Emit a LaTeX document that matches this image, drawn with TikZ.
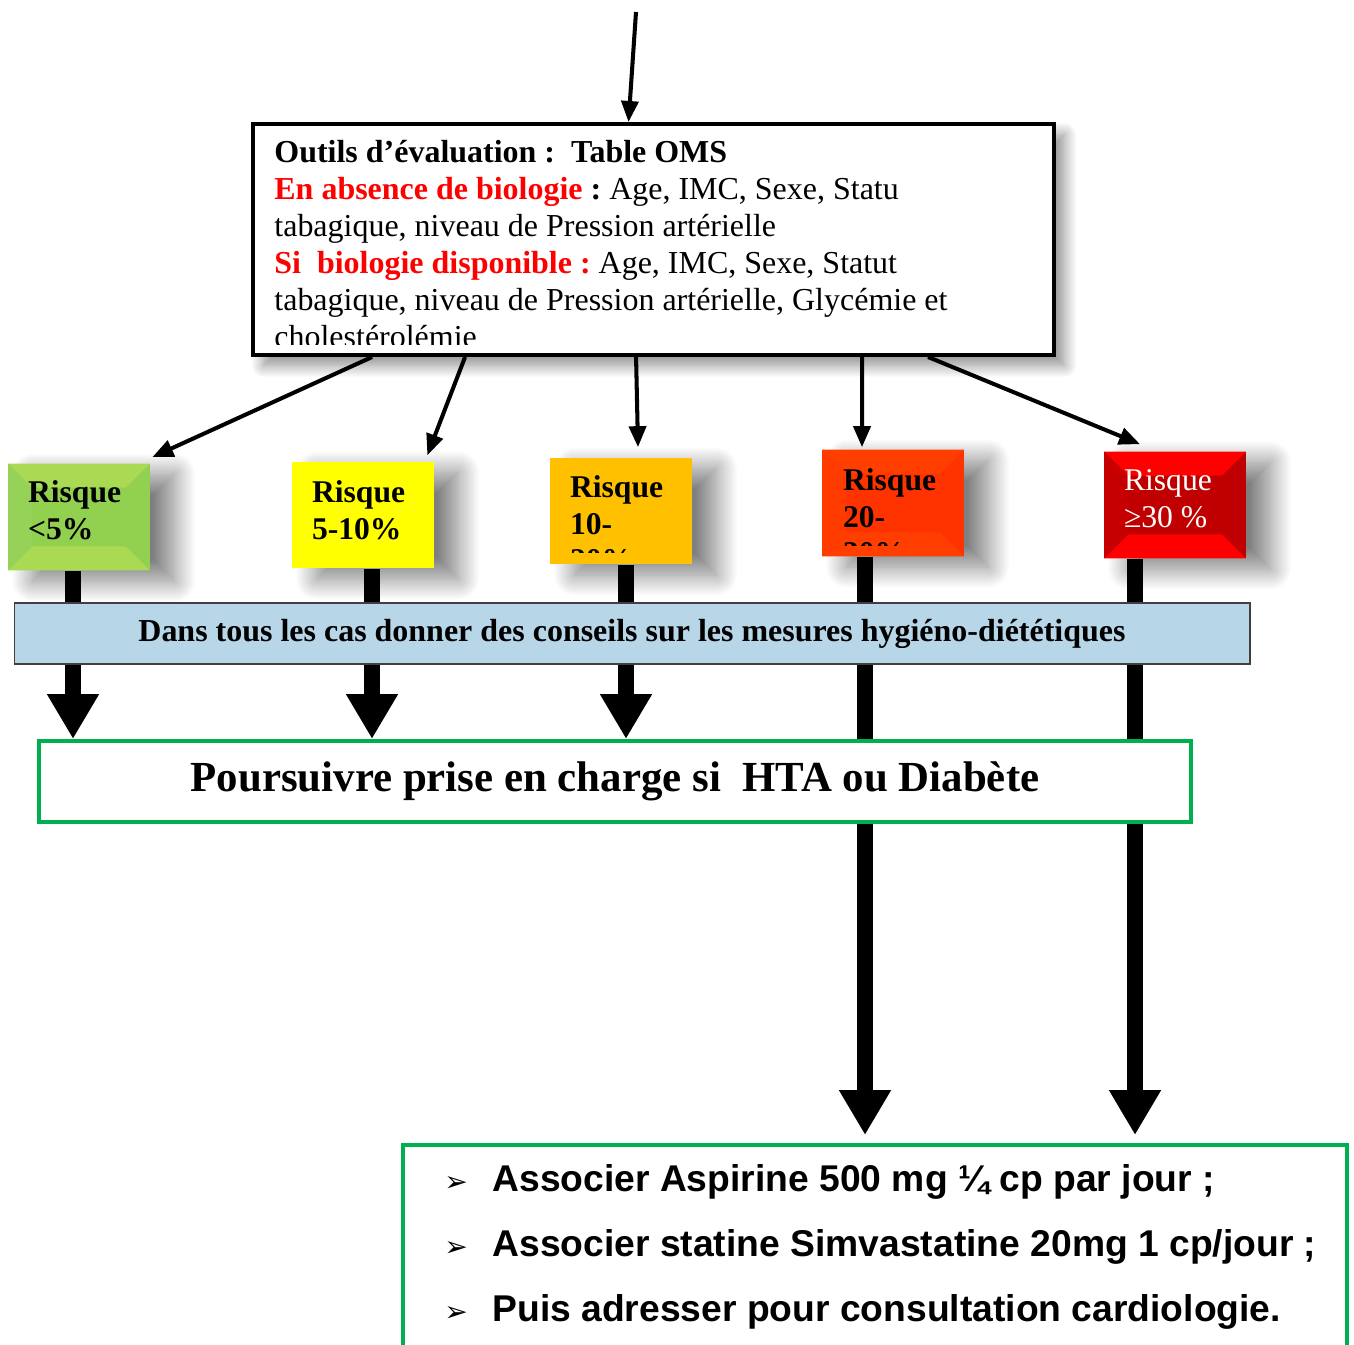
\documentclass[tikz,border=0pt]{standalone}
\usepackage{fontspec}
\setmainfont{Liberation Serif}
\setsansfont{Liberation Sans}
\newfontfamily\bulletfont{DejaVu Sans}
\usetikzlibrary{arrows.meta, positioning, shadows.blur, backgrounds, calc}
\frenchspacing

\definecolor{riskgreen}{HTML}{92D050}
\definecolor{riskyellow}{HTML}{FFFF00}
\definecolor{riskamber}{HTML}{FFC000}
\definecolor{riskorange}{HTML}{FF3300}
\definecolor{riskred}{HTML}{C00000}
\definecolor{bannerblue}{HTML}{B7D6E8}
\definecolor{framegreen}{HTML}{00B050}

\tikzset{
  evalbox/.style={
    rectangle, draw=black, line width=2.3pt, fill=white,
    minimum width=16.02cm, minimum height=4.62cm,
    blur shadow={shadow xshift=6pt, shadow yshift=-6pt,
                 shadow blur radius=7pt, shadow blur steps=20, shadow opacity=45}
  },
  evaltext/.style={
    anchor=base west, inner sep=0pt, text width=15.8cm, align=left,
    font=\fontsize{18.2}{21}\selectfont
  },
  riskbox/.style={
    rectangle, inner sep=0pt, draw=none, fill=#1,
    minimum width=2.84cm, minimum height=2.14cm,
    blur shadow={shadow xshift=14pt, shadow yshift=-6pt,
                 shadow blur radius=12pt, shadow blur steps=25, shadow opacity=50}
  },
  bevel/.style 2 args={
    path picture={
      \fill[#1] (path picture bounding box.north west)
        -- (path picture bounding box.north east)
        -- ([shift={(-24,24)}]path picture bounding box.north east)
        -- ([shift={(24,24)}]path picture bounding box.north west) -- cycle;
      \fill[#1] (path picture bounding box.south west)
        -- (path picture bounding box.south east)
        -- ([shift={(-24,-24)}]path picture bounding box.south east)
        -- ([shift={(24,-24)}]path picture bounding box.south west) -- cycle;
      \fill[#2] (path picture bounding box.north west)
        -- ([shift={(24,24)}]path picture bounding box.north west)
        -- ([shift={(24,-24)}]path picture bounding box.south west)
        -- (path picture bounding box.south west) -- cycle;
    }
  },
  risktext/.style={
    anchor=base west, inner sep=0pt, text width=2.6cm, align=left,
    font=\fontsize{18}{21}\selectfont\bfseries
  },
  thinarrow/.style={-{Triangle[width=0.34cm,length=0.42cm]}, line width=2.3pt},
  fatarrow/.style={-{Triangle[width=0.98cm,length=0.9cm]}, line width=0.32cm},
  bannerbox/.style={
    rectangle, draw=black!75, line width=0.7pt, fill=bannerblue,
    minimum width=24.72cm, minimum height=1.22cm,
    font=\fontsize{18.2}{21}\selectfont\bfseries
  },
  greenbox/.style={
    rectangle, draw=framegreen, line width=2.3pt, fill=white,
    minimum width=#1
  },
  caretext/.style={
    anchor=base west, inner sep=0pt, text width=19cm, align=left,
    font=\sffamily\bfseries\fontsize{21.2}{37}\selectfont
  },
}

\begin{document}
\begin{tikzpicture}[x=0.02cm, y=-0.02cm]
  \useasboundingbox (0,0) rectangle (1354,1344);
  \clip (0,0) rectangle (1354,1344);

  % evaluation tools
  \coordinate (entry) at (636,12);
  \node[evalbox] (oms) at (653.5,239.5) {};
  \draw[thinarrow] (entry) -- ([xshift=-0.5cm]oms.north);
  \begin{scope}
    \clip (oms.north west) rectangle ([shift={(0,-12)}]oms.south east);
    \node[evaltext] (omstxt) at ([shift={(23,41)}]oms.north west)
      {\spaceskip=0pt\xspaceskip=0pt
       \textbf{Outils d’évaluation :\ \ Table OMS}\\
       \textcolor{red}{\textbf{En absence de biologie}} \textbf{:} Age, IMC, Sexe, Statu\\
       tabagique, niveau de Pression artérielle\\
       \textcolor{red}{\textbf{Si\ \ biologie disponible :}} Age, IMC, Sexe, Statut\\
       tabagique, niveau de Pression artérielle, Glycémie et\\
       cholestérolémie};
  \end{scope}

  % risk levels
  \node[riskbox=riskgreen, bevel={riskgreen!85!yellow!92!white}{riskgreen!96!white}] (r1) at (79,517) {};
  \node[riskbox=riskyellow] (r2) at (363,515) {};
  \node[riskbox=riskamber] (r3) at (621,511) {};
  \node[riskbox=riskorange, bevel={riskorange!85!orange}{riskorange!90!orange}] (r4) at (893,503) {};
  \node[riskbox=riskred, bevel={red}{riskred!90!red}] (r5) at (1175,505) {};

  \node[risktext] (t1) at ([shift={(20,39)}]r1.north west) {Risque\\<5\%};
  \node[risktext] (t2) at ([shift={(20,41)}]r2.north west) {Risque\\5-10\%};
  \begin{scope}
    \clip (r3.north west) rectangle ([yshift=0.24cm]r3.south east);
    \node[risktext] (t3) at ([shift={(20,40)}]r3.north west) {Risque\\10-\\20\%};
  \end{scope}
  \begin{scope}
    \clip (r4.north west) rectangle ([yshift=0.22cm]r4.south east);
    \node[risktext] (t4) at ([shift={(21,41)}]r4.north west) {Risque\\20-\\30\%};
  \end{scope}
  \node[risktext, font=\fontsize{18}{21}\selectfont, text=white] (t5)
    at ([shift={(20,39)}]r5.north west) {\spaceskip=0pt Risque\\≥30 \%};

  \draw[thinarrow] ([shift={(121,0)}]oms.south west) -- ([shift={(2,-6)}]r1.north east);
  \draw[thinarrow] ([shift={(214,0)}]oms.south west) -- ([shift={(-7,-6)}]r2.north east);
  \draw[thinarrow] ([shift={(385,0)}]oms.south west) -- ([shift={(17,-10)}]r3.north);
  \draw[thinarrow] ([shift={(611,0)}]oms.south west) -- ([shift={(-31,-2)}]r4.north);
  \draw[thinarrow] ([shift={(677,0)}]oms.south west) -- ([shift={(-35,-7)}]r5.north);

  % advice and follow-up
  \node[bannerbox] (advice) at (632,633.5)
    {Dans tous les cas donner des conseils sur les mesures hygiéno-diététiques};
  \node[greenbox=23.04cm, minimum height=1.62cm,
        font=\fontsize{24.4}{28}\selectfont\bfseries] (pg) at (615,781.5)
    {Poursuivre prise en charge si\ \ HTA ou Diabète};
  \node[greenbox=18.88cm, minimum height=4.7cm] (care) at (875,1262.5) {};

  \begin{scope}[on background layer]
    \draw[fatarrow] ([xshift=-0.12cm]r1.south) -- ([xshift=-0.12cm]r1.south |- pg.north);
    \draw[fatarrow] ([xshift=0.18cm]r2.south) -- ([xshift=0.18cm]r2.south |- pg.north);
    \draw[fatarrow] ([xshift=0.1cm]r3.south) -- ([xshift=0.1cm]r3.south |- pg.north);
    \draw[fatarrow, shorten >=0.16cm] ([xshift=-0.56cm]r4.south) -- ([xshift=-0.56cm]r4.south |- care.north);
    \draw[fatarrow, shorten >=0.16cm] ([xshift=-0.8cm]r5.south) -- ([xshift=-0.8cm]r5.south |- care.north);
  \end{scope}

  \node[caretext] (caretxt) at ([shift={(43,48)}]care.north west)
    {\spaceskip=0pt\xspaceskip=0pt
     \makebox[0.96cm][l]{\bulletfont\fontsize{16}{16}\selectfont ➢}Associer Aspirine 500 mg ¼ cp par jour ;\\
     \makebox[0.96cm][l]{\bulletfont\fontsize{16}{16}\selectfont ➢}Associer statine Simvastatine 20mg 1 cp/jour ;\\
     \makebox[0.96cm][l]{\bulletfont\fontsize{16}{16}\selectfont ➢}Puis adresser pour consultation cardiologie.};
\end{tikzpicture}
\end{document}
